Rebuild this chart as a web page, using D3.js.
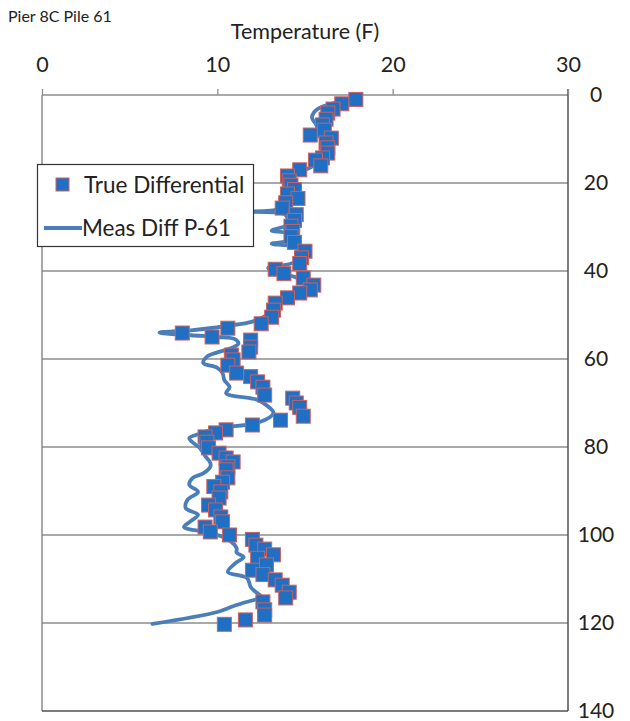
<!DOCTYPE html>
<html>
<head>
<meta charset="utf-8">
<script src="https://cdn.jsdelivr.net/npm/d3@7"></script>
<style>
  html, body { margin: 0; padding: 0; background: #fff; }
  svg { display: block; font-family: Lato, "Open Sans", "Liberation Sans", sans-serif; }
</style>
</head>
<body>
<svg id="chart" width="630" height="721"></svg>
<script>
// Pier 8C Pile 61 — temperature differential versus depth
const xTicks = [0, 10, 20, 30];
const depthTicks = [0, 20, 40, 60, 80, 100, 120, 140];

// True Differential (depth, temperature °F)
const trueDepth = [1, 2, 3.2, 4.1, 5.5, 6.8, 8, 9.1, 9.8, 10.9, 12, 13.2, 14.3, 14.8, 16.1, 17, 18.4, 19.5, 20.5, 21.5,
  22.5, 23.5, 24.5, 25.7, 27.2, 28.5, 29.8, 31, 32.2, 33.5, 35.5, 37, 38.3, 39.6, 40.6, 41.6, 43.2, 44.3, 45, 46.1,
  47.3, 48.9, 50.5, 52, 53, 54.1, 55, 55.7, 57.3, 58.4, 59.1, 60.2, 61.4, 63.2, 64, 65.2, 66.4, 68.2, 68.9, 70,
  71, 73, 73.9, 75, 76.1, 76.8, 77.7, 78.9, 80.2, 81.4, 82.5, 83.4, 84.5, 85.2, 87, 88, 89, 90.2, 91.6, 93.2,
  94.3, 95.9, 97, 98.2, 99.3, 100, 101, 102.3, 103.2, 104.5, 105.3, 106.8, 108, 109, 110.2, 111.4, 113, 114.3, 115.2, 117,
  118.2, 119.3, 120.3];
const trueTemp = [17.9, 17.1, 16.6, 16.3, 16.2, 16.0, 16.1, 15.3, 16.5, 16.2, 16.3, 16.3, 16.0, 15.6, 15.9, 14.7, 14.0, 14.1, 14.2, 14.4,
  14.0, 14.6, 13.9, 13.7, 14.5, 14.4, 14.2, 14.3, 14.2, 14.4, 15.0, 14.8, 14.7, 13.3, 13.8, 14.9, 15.5, 15.3, 14.7, 14.0,
  13.3, 13.2, 13.1, 12.5, 10.6, 8.0, 9.7, 11.9, 11.9, 11.8, 10.8, 10.9, 10.6, 11.1, 11.9, 12.3, 12.6, 12.7, 14.3, 14.5,
  14.7, 14.9, 13.6, 12.0, 10.5, 9.9, 9.3, 9.4, 9.5, 10.1, 10.5, 10.9, 10.6, 10.5, 10.6, 10.3, 9.8, 10.2, 10.1, 9.5,
  9.9, 10.2, 10.3, 9.3, 9.6, 10.7, 12.0, 12.2, 12.7, 13.2, 12.3, 12.8, 12.0, 12.6, 13.3, 13.7, 14.1, 13.9, 12.6, 12.7,
  12.7, 11.6, 10.4];

// Meas Diff P-61 (depth, temperature °F)
const measDepth = [1, 2, 3, 4, 5.2, 6.5, 8, 10, 12, 14, 16, 17.5, 19, 21, 23, 24.5, 25.9, 26.5, 27, 28,
  29.5, 30.8, 31.5, 33, 33.8, 34.5, 36, 38, 39.3, 40.5, 42, 43.5, 45, 46.5, 48, 50, 51.5, 52.5, 53.5, 54,
  54.6, 55, 55.5, 56.5, 57.5, 58.5, 59.5, 60.9, 62, 63.2, 64.8, 66.4, 67.8, 69.3, 70.8, 72.3, 74.5, 75.7, 77, 78,
  79.3, 80.2, 82, 83.6, 84.5, 86, 87, 88.6, 90.2, 92, 93.9, 95.4, 96.8, 98.2, 99.5, 101, 103, 104, 105, 106.5,
  108.4, 109.8, 111.8, 113, 114, 115.3, 116.2, 117.5, 120.2];
const measTemp = [17.6, 16.5, 15.8, 15.5, 15.4, 15.6, 15.8, 15.9, 16.0, 15.8, 15.5, 14.7, 14.0, 13.9, 13.9, 13.7, 13.5, 11.0, 13.8, 14.0,
  14.0, 13.1, 14.0, 14.0, 13.1, 14.3, 14.7, 14.4, 12.9, 13.6, 14.8, 15.0, 14.5, 13.8, 13.2, 12.8, 12.0, 10.5, 8.5, 6.7,
  8.5, 10.0, 11.0, 11.2, 10.8, 10.0, 9.4, 9.2, 10.0, 10.3, 10.4, 10.7, 10.5, 12.3, 12.9, 13.2, 12.3, 10.0, 9.0, 8.4,
  8.7, 9.0, 9.3, 9.6, 9.6, 9.2, 8.6, 8.4, 8.9, 8.3, 8.2, 8.9, 8.5, 8.1, 9.6, 10.6, 11.1, 11.1, 11.5, 11.0,
  10.6, 11.7, 11.9, 12.2, 12.5, 11.6, 10.9, 10.0, 6.3];

const trueData = trueDepth.map((d, i) => ({ depth: d, temp: trueTemp[i] }));
const measData = measDepth.map((d, i) => ({ depth: d, temp: measTemp[i] }));

const svg = d3.select("#chart");
const plotLeft = 42, plotRight = 568, plotTop = 95, plotBottom = 711;

const x = d3.scaleLinear().domain([0, 30]).range([plotLeft, plotRight]);
const y = d3.scaleLinear().domain([0, 140]).range([plotTop, plotBottom]);

// Horizontal gridlines
svg.append("g")
  .selectAll("line")
  .data(depthTicks.filter(d => d > 0 && d < 140))
  .join("line")
  .attr("x1", plotLeft).attr("x2", plotRight)
  .attr("y1", d => y(d)).attr("y2", d => y(d))
  .attr("stroke", "#8c8c8c").attr("stroke-width", 1.3);

// Plot frame: top axis line, left edge, right value axis, bottom edge
svg.append("line").attr("x1", plotLeft).attr("x2", plotRight).attr("y1", plotTop).attr("y2", plotTop)
  .attr("stroke", "#8c8c8c").attr("stroke-width", 1.3);
svg.append("line").attr("x1", plotLeft).attr("x2", plotLeft).attr("y1", plotTop).attr("y2", plotBottom)
  .attr("stroke", "#7a7a7a").attr("stroke-width", 1.3);
svg.append("line").attr("x1", plotRight).attr("x2", plotRight).attr("y1", plotTop - 6).attr("y2", plotBottom)
  .attr("stroke", "#505050").attr("stroke-width", 1.5);
svg.append("line").attr("x1", plotLeft).attr("x2", plotRight).attr("y1", plotBottom).attr("y2", plotBottom)
  .attr("stroke", "#505050").attr("stroke-width", 1.5);

// Top temperature axis
const xAxis = svg.append("g")
  .attr("transform", `translate(0,${plotTop})`)
  .call(d3.axisTop(x).tickValues(xTicks).tickSize(6).tickSizeOuter(0).tickPadding(17));
xAxis.select(".domain").remove();
xAxis.selectAll(".tick line").attr("stroke", "#8c8c8c").attr("stroke-width", 1.3);
xAxis.selectAll(".tick text")
  .attr("font-size", 21.5).attr("fill", "#222")
  .style("font-family", "Lato, 'Open Sans', sans-serif");

// Right depth axis
const yAxis = svg.append("g")
  .attr("transform", `translate(${plotRight},0)`)
  .call(d3.axisRight(y).tickValues(depthTicks).tickSize(0).tickPadding(28));
yAxis.select(".domain").remove();
yAxis.selectAll(".tick text")
  .attr("text-anchor", "middle")
  .attr("dy", "0.3em")
  .attr("font-size", 21).attr("fill", "#222")
  .style("font-family", "Lato, 'Open Sans', sans-serif");

// Titles
svg.append("text")
  .attr("x", 305).attr("y", 39)
  .attr("text-anchor", "middle")
  .attr("font-size", 21.5).attr("fill", "#222")
  .text("Temperature  (F)");
svg.append("text")
  .attr("x", 8).attr("y", 22)
  .attr("font-size", 16).attr("fill", "#222")
  .text("Pier 8C Pile 61");

// Measured differential line
const line = d3.line()
  .x(d => x(d.temp))
  .y(d => y(d.depth))
  .curve(d3.curveCatmullRom.alpha(0.5));

svg.append("path")
  .datum(measData)
  .attr("d", line)
  .attr("fill", "none")
  .attr("stroke", "#4a7ebb")
  .attr("stroke-width", 3.8)
  .attr("stroke-linejoin", "round")
  .attr("stroke-linecap", "round");

// True differential markers
const size = 14;
svg.append("g")
  .selectAll("rect")
  .data(trueData)
  .join("rect")
  .attr("x", d => x(d.temp) - size / 2)
  .attr("y", d => y(d.depth) - size / 2)
  .attr("width", size).attr("height", size)
  .attr("fill", "#1f6fc4")
  .attr("stroke", "#d0605c")
  .attr("stroke-width", 1);

// Legend
const legend = svg.append("g");
legend.append("rect")
  .attr("x", 37.5).attr("y", 164.5).attr("width", 216).attr("height", 82)
  .attr("fill", "#fff").attr("stroke", "#333").attr("stroke-width", 1.2);
legend.append("rect")
  .attr("x", 56).attr("y", 178).attr("width", 13).attr("height", 13)
  .attr("fill", "#1f6fc4").attr("stroke", "#d0605c").attr("stroke-width", 1);
legend.append("text")
  .attr("x", 84).attr("y", 193)
  .attr("font-size", 22.5).attr("fill", "#222")
  .text("True Differential");
legend.append("line")
  .attr("x1", 44).attr("x2", 82).attr("y1", 228).attr("y2", 228)
  .attr("stroke", "#4a7ebb").attr("stroke-width", 3.8);
legend.append("text")
  .attr("x", 82).attr("y", 236)
  .attr("font-size", 22.5).attr("fill", "#222")
  .text("Meas Diff P-61");
</script>
</body>
</html>
